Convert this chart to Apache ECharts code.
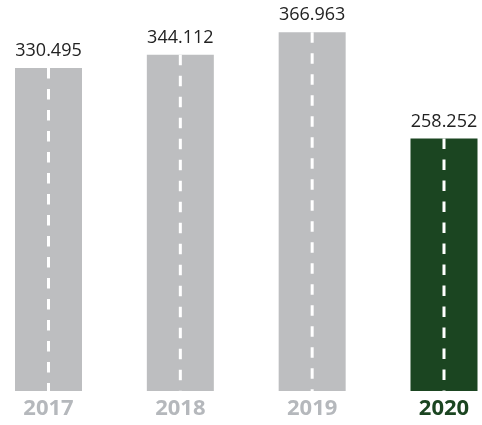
<!DOCTYPE html>
<html>
<head>
<meta charset="utf-8">
<script src="https://cdn.jsdelivr.net/npm/echarts@6/dist/echarts.min.js"></script>
<style>html,body{margin:0;padding:0;background:#fff}#c{width:482px;height:425px}</style>
</head>
<body>
<div id="c"></div>
<script>
var categories = ['2017', '2018', '2019', '2020'];
var values = [330.495, 344.112, 366.963, 258.252];
var labels = ['330.495', '344.112', '366.963', '258.252'];

var GRAY = '#bdbec0';
var GREEN = '#1b4521';
var chart = echarts.init(document.getElementById('c'), null, {renderer: 'canvas'});
chart.setOption({
  animation: false,
  grid: {left: 48.5, right: 38, top: -1, bottom: 34},
  xAxis: {
    type: 'category',
    data: categories,
    boundaryGap: false,
    axisLine: {show: false},
    axisTick: {show: false},
    axisLabel: {
      margin: 7,
      fontFamily: 'Open Sans',
      fontWeight: 'bold',
      fontSize: 22,
      color: function (v, i) { return i === 3 ? GREEN : '#b5b8bc'; }
    }
  },
  yAxis: {type: 'value', min: 0, max: 400, show: false, splitLine: {show: false}},
  series: [{
    type: 'bar',
    barWidth: 67,
    clip: false,
    data: values.map(function (v, i) {
      return {value: v, itemStyle: {color: i === 3 ? GREEN : GRAY}};
    }),
    label: {
      show: true,
      position: 'top',
      distance: 8,
      fontFamily: 'Open Sans',
      fontSize: 18,
      color: '#222222',
      formatter: function (p) { return labels[p.dataIndex]; }
    }
  }, {
    type: 'custom',
    clip: false,
    data: values.map(function (v, i) { return [i, v]; }),
    renderItem: function (params, api) {
      var top = api.coord([api.value(0), api.value(1)]);
      var bot = api.coord([api.value(0), 0]);
      return {
        type: 'line',
        shape: {x1: top[0], y1: top[1], x2: bot[0], y2: bot[1]},
        style: {stroke: '#ffffff', lineWidth: 3, lineDash: [10.5, 10.5], fill: null}
      };
    },
    z: 3
  }]
});
</script>
</body>
</html>
